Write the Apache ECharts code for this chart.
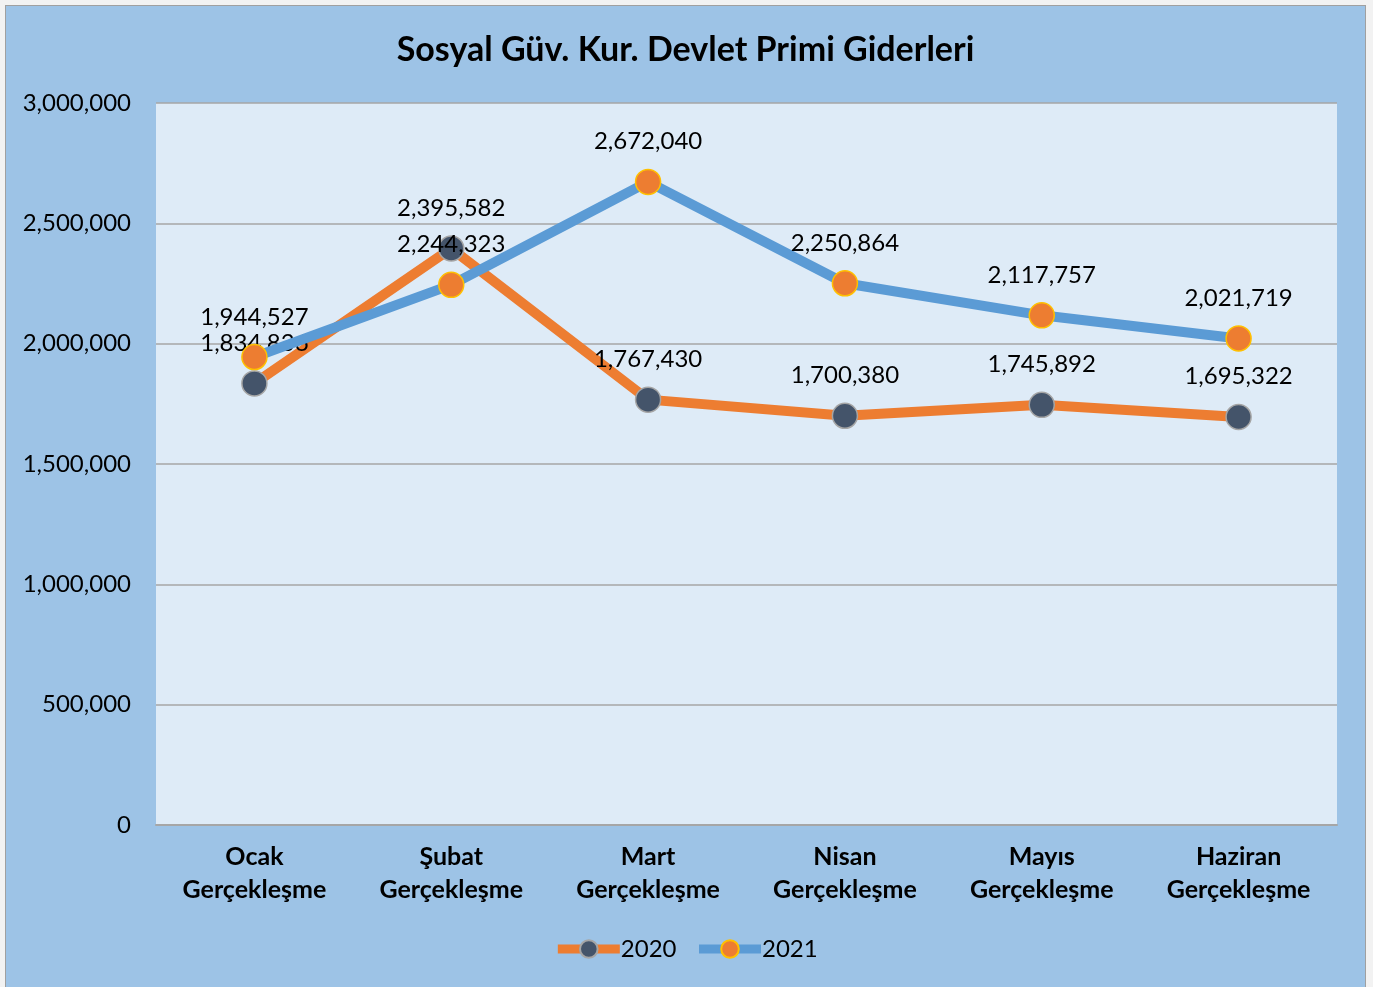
<!DOCTYPE html>
<html>
<head>
<meta charset="utf-8">
<script src="https://cdn.jsdelivr.net/npm/echarts@6/dist/echarts.min.js"></script>
<style>
  html, body { margin: 0; padding: 0; background: #f2f2f2; }
  #chart { position: absolute; left: 5px; top: 5px; width: 1361px; height: 990px;
           background: #9dc3e6; border: 1px solid #a0a0a0; box-sizing: border-box; }
</style>
</head>
<body>
<div id="chart"></div>
<script>
var months = ['Ocak\nGerçekleşme', 'Şubat\nGerçekleşme', 'Mart\nGerçekleşme',
              'Nisan\nGerçekleşme', 'Mayıs\nGerçekleşme', 'Haziran\nGerçekleşme'];
var values2020 = [1834836, 2395582, 1767430, 1700380, 1745892, 1695322];
var values2021 = [1944527, 2244323, 2672040, 2250864, 2117757, 2021719];
var yTicks = [0, 500000, 1000000, 1500000, 2000000, 2500000, 3000000];

function fmt(v) { return Number(v).toLocaleString('en-US'); }

var chart = echarts.init(document.getElementById('chart'));
var font = 'Lato, "Open Sans", sans-serif';
var option = {
    textStyle: { fontFamily: font },
    title: {
        text: 'Sosyal Güv. Kur. Devlet Primi Giderleri',
        left: 'center',
        top: 22,
        textStyle: { fontSize: 34, fontWeight: 'bold', color: '#000', fontFamily: font }
    },
    legend: {
        bottom: 28,
        left: 'center',
        itemWidth: 62,
        itemHeight: 22,
        itemGap: 18,
        lineStyle: { width: 9 },
        textStyle: { fontSize: 24, color: '#000', fontFamily: font, padding: [0, 0, 0, -4] },
        data: ['2020', '2021']
    },
    grid: { left: 150, right: 28, top: 97, bottom: 169, containLabel: false },
    xAxis: {
        type: 'category',
        data: months,
        boundaryGap: true,
        axisLine: { lineStyle: { color: '#a6a6a6', width: 2 } },
        axisTick: { show: false },
        axisLabel: { fontSize: 25, fontWeight: 'bold', color: '#000', lineHeight: 33,
                     margin: 15, fontFamily: font }
    },
    yAxis: {
        type: 'value',
        min: yTicks[0],
        max: yTicks[yTicks.length - 1],
        interval: 500000,
        axisLine: { show: false },
        axisTick: { show: false },
        splitLine: { lineStyle: { color: '#a6a6a6', width: 1.5 } },
        axisLabel: { fontSize: 24, color: '#000', margin: 25, fontFamily: font,
                     formatter: function (v) { return fmt(v); } }
    },
    series: [
        {
            name: '2020',
            type: 'line',
            data: values2020,
            symbol: 'circle',
            symbolSize: 25,
            lineStyle: { color: '#ed7d31', width: 10 },
            itemStyle: { color: '#44546a', borderColor: '#a5a5a5', borderWidth: 1.5 },
            label: { show: true, position: 'top', distance: 15, fontSize: 24, color: '#000',
                     fontFamily: font, formatter: function (p) { return fmt(p.value); } },
            z: 3
        },
        {
            name: '2021',
            type: 'line',
            data: values2021,
            symbol: 'circle',
            symbolSize: 25,
            lineStyle: { color: '#5b9bd5', width: 10 },
            itemStyle: { color: '#ed7d31', borderColor: '#ffc000', borderWidth: 1.5 },
            label: { show: true, position: 'top', distance: 15, fontSize: 24, color: '#000',
                     fontFamily: font, formatter: function (p) { return fmt(p.value); } },
            z: 4
        }
    ]
};
chart.setOption(option);
// plot area background
var rect = chart.getModel().getComponent('grid').coordinateSystem.getRect();
chart.setOption({
    graphic: [{
        type: 'rect', z: -10, silent: true,
        shape: { x: rect.x, y: rect.y, width: rect.width, height: rect.height },
        style: { fill: '#deebf7' }
    }]
});
window.onresize = function () { chart.resize(); };
</script>
</body>
</html>
